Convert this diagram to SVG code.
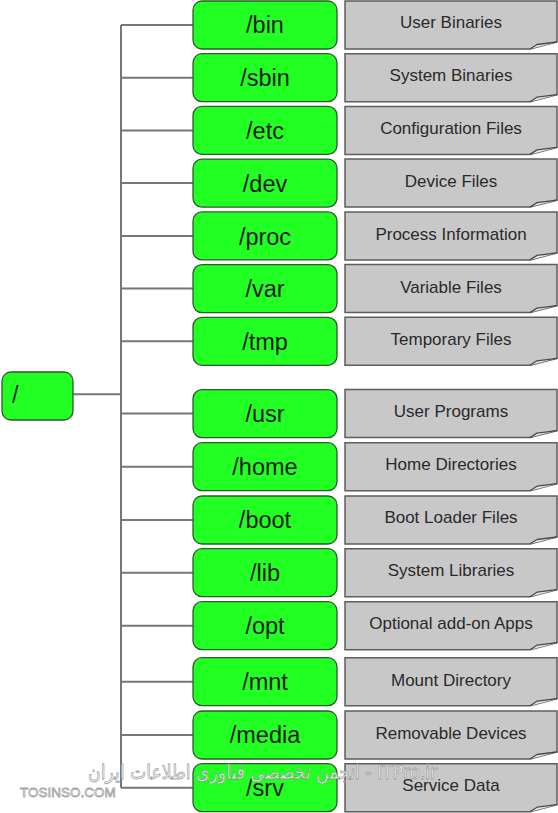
<svg xmlns="http://www.w3.org/2000/svg" width="558" height="813" viewBox="0 0 558 813">
<style>
.box{fill:#22ff22;stroke:#2e5a2e;stroke-width:1.3}
.lbl{font-family:"Liberation Sans",Arial,sans-serif;font-size:23.5px;fill:#1a1a1a;text-anchor:middle}
.note{fill:#c8c8c8;stroke:#5e5e5e;stroke-width:1.5}
.fold{fill:#e6e6e6;stroke:#4a4a4a;stroke-width:1.3;stroke-linejoin:round}
.ntxt{font-family:"Liberation Sans",Arial,sans-serif;font-size:17px;fill:#2a2a2a;text-anchor:middle}
.conn{stroke:#777;stroke-width:2;fill:none}
.wm{font-family:"DejaVu Sans","Liberation Sans",sans-serif;fill:#ffffff;fill-opacity:0.85;stroke:#8a8a8a;stroke-width:0.8;stroke-opacity:0.8}
</style>
<defs>
<g id="noteShape">
<path class="note" d="M0,0 H212 V41 L185,48 H0 Z"/>
<path class="fold" d="M185,48 L192,43.5 L212,41"/>
</g>
</defs>
<rect width="558" height="813" fill="#ffffff"/>
<g id="connectors">
<path class="conn" d="M73,394.3 H121 M121,25 V787.7"/>
<path class="conn" d="M121,25 H193 M121,77.7 H193 M121,130.4 H193 M121,183.1 H193 M121,235.9 H193 M121,288.6 H193 M121,341.3 H193 M121,413.6 H193 M121,466.7 H193 M121,520 H193 M121,572.7 H193 M121,625.7 H193 M121,681.7 H193 M121,735 H193 M121,787.7 H193"/>
</g>
<g id="root">
<rect class="box" x="2" y="372" width="71" height="48" rx="9"/>
<text class="lbl" x="12" y="403" style="text-anchor:start">/</text>
</g>
<g id="bin"><rect class="box" x="193" y="1" width="144" height="48" rx="9"/><text class="lbl" x="265" y="33">/bin</text></g>
<g id="bin-note"><use href="#noteShape" x="345" y="1"/><text class="ntxt" x="451" y="28">User Binaries</text></g>
<g id="sbin"><rect class="box" x="193" y="53.7" width="144" height="48" rx="9"/><text class="lbl" x="265" y="86">/sbin</text></g>
<g id="sbin-note"><use href="#noteShape" x="345" y="53.7"/><text class="ntxt" x="451" y="81">System Binaries</text></g>
<g id="etc"><rect class="box" x="193" y="106.4" width="144" height="48" rx="9"/><text class="lbl" x="265" y="139">/etc</text></g>
<g id="etc-note"><use href="#noteShape" x="345" y="106.4"/><text class="ntxt" x="451" y="134">Configuration Files</text></g>
<g id="dev"><rect class="box" x="193" y="159.1" width="144" height="48" rx="9"/><text class="lbl" x="265" y="192">/dev</text></g>
<g id="dev-note"><use href="#noteShape" x="345" y="159.1"/><text class="ntxt" x="451" y="187">Device Files</text></g>
<g id="proc"><rect class="box" x="193" y="211.9" width="144" height="48" rx="9"/><text class="lbl" x="265" y="245">/proc</text></g>
<g id="proc-note"><use href="#noteShape" x="345" y="211.9"/><text class="ntxt" x="451" y="240">Process Information</text></g>
<g id="var"><rect class="box" x="193" y="264.6" width="144" height="48" rx="9"/><text class="lbl" x="265" y="297">/var</text></g>
<g id="var-note"><use href="#noteShape" x="345" y="264.6"/><text class="ntxt" x="451" y="293">Variable Files</text></g>
<g id="tmp"><rect class="box" x="193" y="317.3" width="144" height="48" rx="9"/><text class="lbl" x="265" y="350">/tmp</text></g>
<g id="tmp-note"><use href="#noteShape" x="345" y="317.3"/><text class="ntxt" x="451" y="345">Temporary Files</text></g>
<g id="usr"><rect class="box" x="193" y="389.6" width="144" height="48" rx="9"/><text class="lbl" x="265" y="422">/usr</text></g>
<g id="usr-note"><use href="#noteShape" x="345" y="389.6"/><text class="ntxt" x="451" y="417">User Programs</text></g>
<g id="home"><rect class="box" x="193" y="442.7" width="144" height="48" rx="9"/><text class="lbl" x="265" y="475">/home</text></g>
<g id="home-note"><use href="#noteShape" x="345" y="442.7"/><text class="ntxt" x="451" y="470">Home Directories</text></g>
<g id="boot"><rect class="box" x="193" y="496" width="144" height="48" rx="9"/><text class="lbl" x="265" y="528">/boot</text></g>
<g id="boot-note"><use href="#noteShape" x="345" y="496"/><text class="ntxt" x="451" y="523">Boot Loader Files</text></g>
<g id="lib"><rect class="box" x="193" y="548.7" width="144" height="48" rx="9"/><text class="lbl" x="265" y="581">/lib</text></g>
<g id="lib-note"><use href="#noteShape" x="345" y="548.7"/><text class="ntxt" x="451" y="576">System Libraries</text></g>
<g id="opt"><rect class="box" x="193" y="601.7" width="144" height="48" rx="9"/><text class="lbl" x="265" y="634">/opt</text></g>
<g id="opt-note"><use href="#noteShape" x="345" y="601.7"/><text class="ntxt" x="451" y="629">Optional add-on Apps</text></g>
<g id="mnt"><rect class="box" x="193" y="657.7" width="144" height="48" rx="9"/><text class="lbl" x="265" y="690">/mnt</text></g>
<g id="mnt-note"><use href="#noteShape" x="345" y="657.7"/><text class="ntxt" x="451" y="686">Mount Directory</text></g>
<g id="media"><rect class="box" x="193" y="711" width="144" height="48" rx="9"/><text class="lbl" x="265" y="743">/media</text></g>
<g id="media-note"><use href="#noteShape" x="345" y="711"/><text class="ntxt" x="451" y="739">Removable Devices</text></g>
<g id="srv"><rect class="box" x="193" y="763.7" width="144" height="48" rx="9"/><text class="lbl" x="265" y="796">/srv</text></g>
<g id="srv-note"><use href="#noteShape" x="345" y="763.7"/><text class="ntxt" x="451" y="791">Service Data</text></g>
<g id="watermark">
<text class="wm" x="88" y="779" font-size="20" textLength="349" lengthAdjust="spacingAndGlyphs">انجمن تخصصی فناوری اطلاعات ایران - ITPro.ir</text>
<text class="wm" x="20" y="797" font-size="13.5" style="font-family:'Liberation Sans',sans-serif">TOSINSO.COM</text>
</g>
</svg>
